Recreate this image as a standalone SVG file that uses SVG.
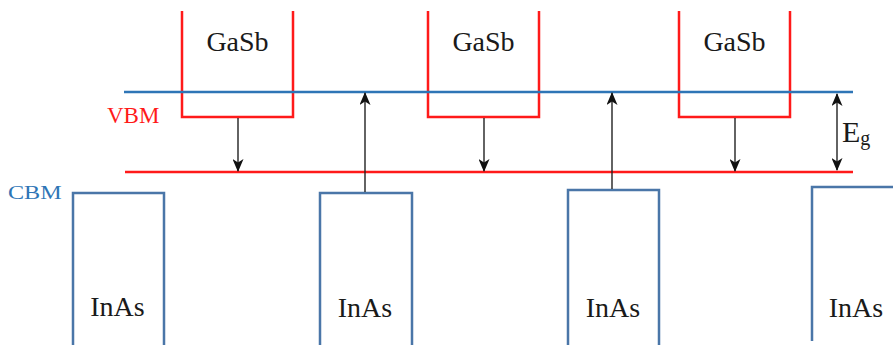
<svg xmlns="http://www.w3.org/2000/svg" width="893" height="345" viewBox="0 0 893 345">
  <defs>
    <style>
      .gasb { fill: none; stroke: #ff1a1a; stroke-width: 2.5; }
      .inas { fill: none; stroke: #4a76a8; stroke-width: 2.5; }
      .vbm-line { stroke: #2e75b6; stroke-width: 2.5; }
      .cbm-line { stroke: #ff1a1a; stroke-width: 2.5; }
      .arrow { stroke: #222; stroke-width: 1.4; fill: none; marker-end: url(#head); }
      .both { marker-start: url(#head); }
      .label { font-family: "Liberation Serif", "Times New Roman", serif; fill: #1a1a1a; font-size: 28px; text-anchor: middle; }
      .side { font-family: "Liberation Serif", "Times New Roman", serif; font-size: 23px; }
    </style>
    <marker id="head" viewBox="0 0 13 11" refX="12" refY="5.5" markerWidth="13" markerHeight="11" markerUnits="userSpaceOnUse" orient="auto-start-reverse">
      <path d="M0,0 L13,5.5 L0,11 L3.5,5.5 Z" fill="#111"/>
    </marker>
  </defs>

  <!-- GaSb wells (open at top) -->
  <g id="gasb1">
    <path class="gasb" d="M182,11 V117 H293 V11"/>
    <text class="label" x="237.5" y="51">GaSb</text>
  </g>
  <g id="gasb2">
    <path class="gasb" d="M428,11 V117 H539 V11"/>
    <text class="label" x="483.5" y="51">GaSb</text>
  </g>
  <g id="gasb3">
    <path class="gasb" d="M679,11 V117 H790 V11"/>
    <text class="label" x="734.5" y="51">GaSb</text>
  </g>

  <!-- band edge levels -->
  <g id="levels">
    <line class="cbm-line" x1="125" y1="172" x2="853" y2="172"/>
    <line class="vbm-line" x1="124" y1="92" x2="853" y2="92"/>
    <text class="side" x="107" y="123" fill="#ff1a1a">VBM</text>
    <text class="side" transform="translate(8,199) scale(1.05,0.82)" fill="#2e75b6">CBM</text>
  </g>

  <!-- InAs wells (open at bottom) -->
  <g id="inas1">
    <path class="inas" d="M73,345 V193 H164 V345"/>
    <text class="label" x="117.5" y="316">InAs</text>
  </g>
  <g id="inas2">
    <path class="inas" d="M320,345 V193 H412 V345"/>
    <text class="label" x="365" y="317">InAs</text>
  </g>
  <g id="inas3">
    <path class="inas" d="M568,345 V190 H659 V345"/>
    <text class="label" x="613" y="317">InAs</text>
  </g>
  <g id="inas4">
    <path class="inas" d="M812,341 V187 H893"/>
    <text class="label" x="856" y="317">InAs</text>
  </g>

  <!-- transitions -->
  <g id="connectors">
    <line class="arrow" x1="238" y1="118" x2="238" y2="171"/>
    <line class="arrow" x1="484" y1="118" x2="484" y2="171"/>
    <line class="arrow" x1="735" y1="118" x2="735" y2="171"/>
    <line class="arrow" x1="365" y1="192" x2="365" y2="93"/>
    <line class="arrow" x1="612" y1="189" x2="612" y2="93"/>
    <line class="arrow both" x1="837" y1="94" x2="837" y2="170"/>
  </g>

  <g id="gap-label">
    <text font-family="'Liberation Serif', 'Times New Roman', serif" font-size="30" fill="#1a1a1a" x="842" y="142">E<tspan font-size="20" dy="3">g</tspan></text>
  </g>
</svg>
